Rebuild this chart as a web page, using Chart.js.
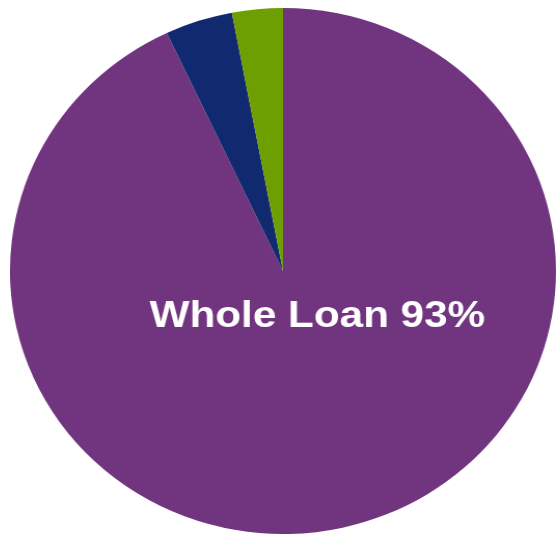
<!DOCTYPE html>
<html>
<head>
<meta charset="utf-8">
<script src="https://cdn.jsdelivr.net/npm/chart.js@4.4.0/dist/chart.umd.min.js"></script>
<style>
  html, body { margin: 0; padding: 0; background: #fff; overflow: hidden; }
  #wrap {
    position: absolute;
    left: 20px;
    top: 8px;
    width: 526px;
    height: 526px;
    transform: scaleX(1.038);
    transform-origin: 50% 50%;
  }
</style>
</head>
<body>
<div id="wrap"><canvas id="pieChart" width="526" height="526"></canvas></div>
<script>
var labels = ['Whole Loan', 'Other', 'Securities'];
var values = [93, 4, 3];
var colors = ['#71347F', '#112A6F', '#6E9F00'];

// big white label over the largest slice
var sliceLabel = {
    id: 'sliceLabel',
    afterDatasetsDraw: function (chart) {
        var arc = chart.getDatasetMeta(0).data[0];
        var r = arc.outerRadius;
        var c = chart.ctx;
        c.save();
        c.translate(arc.x + r * 0.126, arc.y + r * 0.214);
        c.scale(1.13, 1);
        c.font = 'bold 36px "Liberation Sans", Arial, sans-serif';
        c.fillStyle = '#ffffff';
        c.textAlign = 'center';
        c.textBaseline = 'alphabetic';
        c.fillText(labels[0] + ' ' + values[0] + '%', 0, 0);
        c.restore();
    }
};

var pieChart = new Chart(document.getElementById('pieChart').getContext('2d'), {
    type: 'pie',
    data: {
        labels: labels,
        datasets: [{
            data: values,
            backgroundColor: colors,
            borderWidth: 0
        }]
    },
    options: {
        responsive: false,
        animation: false,
        plugins: {
            legend: { display: false },
            tooltip: { enabled: false }
        }
    },
    plugins: [sliceLabel]
});
</script>
</body>
</html>
